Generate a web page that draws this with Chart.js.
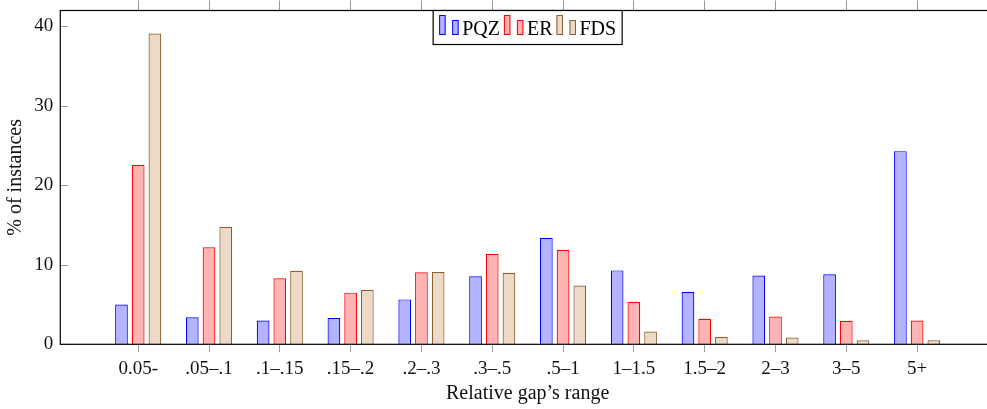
<!DOCTYPE html>
<html>
<head>
<meta charset="utf-8">
<script src="https://cdn.jsdelivr.net/npm/chart.js@4/dist/chart.umd.min.js"></script>
<style>
  html, body { margin: 0; padding: 0; overflow: hidden; background: #fff; }
  #wrap { position: relative; width: 1000px; height: 409px; }
</style>
</head>
<body>
<div id="wrap"><canvas id="c"></canvas></div>
<script>
// Relative gap ranges (x categories)
const categories = ['0.05-', '.05–.1', '.1–.15', '.15–.2', '.2–.3', '.3–.5', '.5–1', '1–1.5', '1.5–2', '2–3', '3–5', '5+'];
// Share of instances per range, in percent
const pqz = [5.0, 3.4, 3.0, 3.3, 5.65, 8.55, 13.4, 9.3, 6.6, 8.65, 8.8, 24.3];
const er  = [22.6, 12.2, 8.3, 6.5, 9.05, 11.35, 11.9, 5.35, 3.2, 3.5, 2.95, 3.0];
const fds = [39.1, 14.8, 9.25, 6.85, 9.1, 9.0, 7.4, 1.6, 0.95, 0.85, 0.5, 0.5];
const seriesNames = ['PQZ', 'ER', 'FDS'];
const yTicks = [0, 10, 20, 30, 40];

const FONT = '"Liberation Serif", "Times New Roman", serif';
const TICK_GREY = '#9a9a9a';
const TICK_SIZE = 19;
const TITLE_SIZE = 20;

const toPoints = vals => vals.map((v, i) => ({ x: i, y: v }));
const categoryTicks = () => categories.map((_, i) => ({ value: i }));

const styles = [
  { bg: 'rgb(179,179,255)', border: 'rgb(0,0,255)' },
  { bg: 'rgb(255,179,179)', border: 'rgb(255,0,0)' },
  { bg: 'rgb(236,217,198)', border: 'rgb(140,95,50)' }
];

// Frame, inward y ticks and the bar-style legend
const framePlugin = {
  id: 'frame',
  afterDraw(chart) {
    const { ctx, chartArea: a, scales } = chart;
    ctx.save();
    // inward y tick marks on both sides
    ctx.strokeStyle = TICK_GREY;
    ctx.lineWidth = 1;
    yTicks.forEach(v => {
      const y = Math.round(scales.y.getPixelForValue(v)) + 0.5;
      ctx.beginPath();
      ctx.moveTo(a.left, y); ctx.lineTo(a.left + 8, y);
      ctx.moveTo(a.right, y); ctx.lineTo(a.right - 8, y);
      ctx.stroke();
    });
    // axis box
    ctx.strokeStyle = '#000';
    ctx.lineWidth = 1.2;
    ctx.strokeRect(a.left, a.top, a.right - a.left, a.bottom - a.top);

    // legend
    ctx.font = TITLE_SIZE + 'px ' + FONT;
    const iconW = 6.5, gap1 = 6.5, gap2 = 3.5, after = 4;
    const entryW = seriesNames.map(n => iconW * 2 + gap1 + gap2 + ctx.measureText(n).width);
    const total = entryW.reduce((s, w) => s + w, 0) + after * (seriesNames.length - 1) + 12;
    const cx = (a.left + a.right) / 2;
    const bx = cx - total / 2, by = a.top, bh = 34;
    ctx.fillStyle = '#fff';
    ctx.fillRect(bx, by, total, bh);
    ctx.strokeStyle = '#000';
    ctx.lineWidth = 1.2;
    ctx.strokeRect(bx, by, total, bh);
    let x = bx + 6;
    seriesNames.forEach((n, i) => {
      const st = styles[i];
      ctx.lineWidth = 1;
      ctx.fillStyle = st.bg; ctx.strokeStyle = st.border;
      ctx.fillRect(x, by + 5, iconW, 19); ctx.strokeRect(x + 0.5, by + 5, iconW - 1, 19);
      const x2 = x + iconW + gap1;
      ctx.fillRect(x2, by + 10, iconW, 14); ctx.strokeRect(x2 + 0.5, by + 10, iconW - 1, 14);
      ctx.fillStyle = '#000';
      ctx.textBaseline = 'alphabetic';
      ctx.textAlign = 'left';
      ctx.fillText(n, x2 + iconW + gap2, by + 24);
      x += entryW[i] + after;
    });
    ctx.restore();
  }
};

const datasets = [pqz, er, fds].map((vals, i) => ({
  label: seriesNames[i],
  data: toPoints(vals),
  backgroundColor: styles[i].bg,
  borderColor: styles[i].border,
  borderWidth: 1.2,
  categoryPercentage: 0.708,
  barPercentage: 0.76
}));

new Chart(document.getElementById('c'), {
  type: 'bar',
  data: { datasets },
  plugins: [framePlugin],
  options: {
    responsive: true,
    maintainAspectRatio: false,
    animation: false,
    layout: { padding: { left: 0, right: 5, top: 0, bottom: 0 } },
    plugins: { legend: { display: false }, tooltip: { enabled: false } },
    scales: {
      x: {
        type: 'linear',
        position: 'bottom',
        offset: false,
        min: -1.1,
        max: 12.1,
        afterBuildTicks(s) { s.ticks = categoryTicks(); },
        afterFit(s) { s.height = 409 - 344.3; s.paddingLeft = 0; s.paddingRight = 0; },
        border: { display: false },
        grid: { offset: false, drawOnChartArea: false, drawTicks: true, tickLength: 8, tickColor: TICK_GREY, color: TICK_GREY },
        ticks: {
          autoSkip: false, maxRotation: 0, padding: 5,
          color: '#111', font: { family: FONT, size: TICK_SIZE },
          callback: v => categories[v] ?? ''
        },
        title: {
          display: true, text: 'Relative gap’s range', color: '#111',
          font: { family: FONT, size: TITLE_SIZE }, padding: { top: 3, bottom: 3 }
        }
      },
      xTop: {
        type: 'linear',
        position: 'top',
        offset: false,
        min: -1.1,
        max: 12.1,
        afterBuildTicks(s) { s.ticks = categoryTicks(); },
        afterFit(s) { s.height = 10.5; s.paddingLeft = 0; s.paddingRight = 0; },
        border: { display: false },
        grid: { offset: false, drawOnChartArea: false, drawTicks: true, tickLength: 10, tickColor: TICK_GREY, color: TICK_GREY },
        ticks: { display: false }
      },
      y: {
        type: 'linear',
        min: 0,
        max: 42,
        afterBuildTicks(s) { s.ticks = yTicks.map(v => ({ value: v })); },
        afterFit(s) { s.width = 60.3; s.paddingTop = 0; s.paddingBottom = 0; },
        border: { display: false },
        grid: { display: false, drawTicks: false },
        ticks: { padding: 7, color: '#111', font: { family: FONT, size: TICK_SIZE } },
        title: {
          display: true, text: '% of instances', color: '#111',
          font: { family: FONT, size: TITLE_SIZE }, padding: { top: 4, bottom: 4 }
        }
      }
    }
  }
});
</script>
</body>
</html>
